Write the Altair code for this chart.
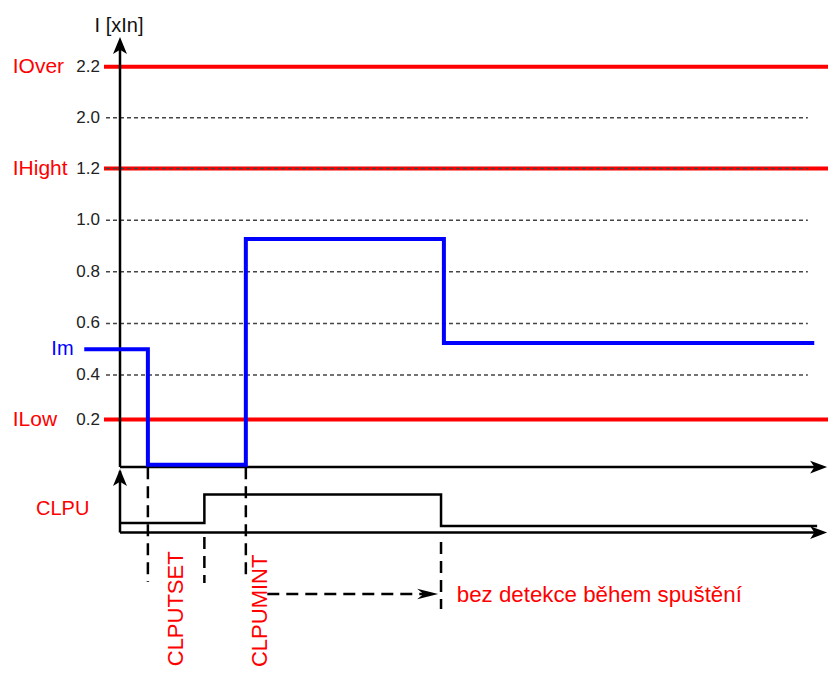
import altair as alt
import pandas as pd

# ---------------- data (x = time, % of drawing width; 0 = vertical axis) ----------------
# measured current Im [xIn] (step signal)
im_t = [-5.0, 3.9, 17.6, 45.3, 97.1]
im_val = [0.5, 0.01, 0.927, 0.524, 0.524]

# CLPU logic signal (0 = baseline, 1 = active)
clpu_t = [0.0, 11.8, 44.9, 97.5]
clpu_val = [0.25, 1.0, 0.17, 0.17]

# thresholds
thr_names = ["IOver", "IHight", "ILow"]
thr_vals = [2.2, 1.2, 0.2]

# y-axis ticks and dashed grid
tick_vals = [2.2, 2.0, 1.2, 1.0, 0.8, 0.6, 0.4, 0.2]
tick_labels = ["2.2", "2.0", "1.2", "1.0", "0.8", "0.6", "0.4", "0.2"]
grid_vals = [2.0, 1.2, 1.0, 0.8, 0.6, 0.4]

# event markers (dashed verticals) in the lower lane
event_t = [3.9, 11.8, 17.6, 44.9]
event_top = [1.72, -0.12, 1.72, -0.25]
event_bottom = [-1.30, -1.33, -1.25, -2.01]

# rotated event labels
label_names = ["CLPUTSET", "CLPUMINT"]
label_t = [7.83, 19.65]
label_lane = [-3.52, -3.54]

# ---------------- scales ----------------
XS = alt.Scale(domain=[0, 100], range=[112, 827], nice=False, zero=False)
YI = alt.Scale(domain=[0, 0.2, 0.4, 1.2, 2.0, 2.2],
               range=[459, 411.5, 367, 160.5, 109.7, 58.7], nice=False, zero=False)
YL = alt.Scale(domain=[0, 1], range=[524.5, 486.5], nice=False, zero=False)

FONT = "Liberation Sans"
RED = "#ff0000"
BLUE = "#0000ff"


def X(f="t"):
    return alt.X(f"{f}:Q", scale=XS, axis=None)


def YIe(f="I"):
    return alt.Y(f"{f}:Q", scale=YI, axis=None)


def YLe(f="lane"):
    return alt.Y(f"{f}:Q", scale=YL, axis=None)


layers = []

# red threshold lines
thr_df = pd.DataFrame({"I": thr_vals, "name": thr_names, "t": -2.24, "t2": 99.2})
layers.append(alt.Chart(thr_df).mark_rule(color=RED, strokeWidth=4).encode(
    x=X(), x2="t2:Q", y=YIe()))

# dashed grid
grid_df = pd.DataFrame({"I": grid_vals, "t": -1.96, "t2": 96.2})
layers.append(alt.Chart(grid_df).mark_rule(color="#444444", strokeWidth=1.5, strokeDash=[4, 3]).encode(
    x=X(), x2="t2:Q", y=YIe()))

# threshold labels
layers.append(alt.Chart(thr_df.assign(tl=-15.0)).mark_text(
    align="left", baseline="middle", font=FONT, fontSize=21, color=RED).encode(
    x=X("tl"), y=YIe(), text="name:N"))

# tick labels
tick_df = pd.DataFrame({"I": tick_vals, "lab": tick_labels, "t": -2.8})
layers.append(alt.Chart(tick_df).mark_text(
    align="right", baseline="middle", font=FONT, fontSize=17, color="#222222").encode(
    x=X(), y=YIe(), text="lab:N"))

# axis title
layers.append(alt.Chart(pd.DataFrame({"t": [-0.14], "I": [2.336], "lab": ["I [xIn]"]})).mark_text(
    align="center", baseline="alphabetic", font=FONT, fontSize=20, color="#111111").encode(
    x=X(), y=YIe(), text="lab:N"))

# Im label
layers.append(alt.Chart(pd.DataFrame({"t": [-9.6], "I": [0.5], "lab": ["Im"]})).mark_text(
    align="left", baseline="middle", font=FONT, fontSize=20, color=BLUE).encode(
    x=X(), y=YIe(), text="lab:N"))

# axes of the upper panel
layers.append(alt.Chart(pd.DataFrame({"t": [0.0], "t2": [98.0], "I": [0.0]})).mark_rule(
    color="black", strokeWidth=2.5).encode(x=X(), x2="t2:Q", y=YIe()))
layers.append(alt.Chart(pd.DataFrame({"t": [0.0], "I": [0.0], "I2": [2.29]})).mark_rule(
    color="black", strokeWidth=2.5).encode(x=X(), y=YIe(), y2="I2:Q"))

# current signal
im_df = pd.DataFrame({"t": im_t, "I": im_val})
layers.append(alt.Chart(im_df).mark_line(
    interpolate="step-after", color=BLUE, strokeWidth=4).encode(x=X(), y=YIe()))

# arrow heads (upper panel)
UP = "M0,0 L0.82,2 L0,1.5 L-0.82,2 Z"
RIGHT = "M0,0 L-2,0.75 L-1.5,0 L-2,-0.75 Z"
layers.append(alt.Chart(pd.DataFrame({"t": [0.0], "I": [2.316]})).mark_point(
    shape=UP, size=289, filled=True, color="black", opacity=1).encode(x=X(), y=YIe()))
layers.append(alt.Chart(pd.DataFrame({"t": [98.9], "I": [0.0]})).mark_point(
    shape=RIGHT, size=289, filled=True, color="black", opacity=1).encode(x=X(), y=YIe()))

# ---------------- lower lane ----------------
# dashed event markers
ev_df = pd.DataFrame({"t": event_t, "lane": event_top, "lane2": event_bottom})
layers.append(alt.Chart(ev_df).mark_rule(color="black", strokeWidth=2.5, strokeDash=[12, 7]).encode(
    x=X(), y=YLe(), y2="lane2:Q"))

# lower axes
layers.append(alt.Chart(pd.DataFrame({"t": [0.0], "t2": [98.0], "lane": [0.0]})).mark_rule(
    color="black", strokeWidth=2.5).encode(x=X(), x2="t2:Q", y=YLe()))
layers.append(alt.Chart(pd.DataFrame({"t": [0.0], "lane": [0.0], "lane2": [1.62]})).mark_rule(
    color="black", strokeWidth=2.5).encode(x=X(), y=YLe(), y2="lane2:Q"))

# CLPU signal
clpu_df = pd.DataFrame({"t": clpu_t, "lane": clpu_val})
layers.append(alt.Chart(clpu_df).mark_line(
    interpolate="step-after", color="black", strokeWidth=2.5).encode(x=X(), y=YLe()))

layers.append(alt.Chart(pd.DataFrame({"t": [0.0], "lane": [1.67]})).mark_point(
    shape=UP, size=289, filled=True, color="black", opacity=1).encode(x=X(), y=YLe()))
layers.append(alt.Chart(pd.DataFrame({"t": [98.9], "lane": [0.0]})).mark_point(
    shape=RIGHT, size=289, filled=True, color="black", opacity=1).encode(x=X(), y=YLe()))

# duration arrow
layers.append(alt.Chart(pd.DataFrame({"t": [20.6], "t2": [42.5], "lane": [-1.62]})).mark_rule(
    color="black", strokeWidth=2.5, strokeDash=[12, 7]).encode(x=X(), x2="t2:Q", y=YLe()))
layers.append(alt.Chart(pd.DataFrame({"t": [44.5], "lane": [-1.62]})).mark_point(
    shape="M0,0 L-2,0.5 L-1.4,0 L-2,-0.5 Z", size=441, filled=True, color="black", opacity=1).encode(
    x=X(), y=YLe()))

# lane texts
layers.append(alt.Chart(pd.DataFrame({"t": [-11.75], "lane": [0.46], "lab": ["CLPU"]})).mark_text(
    align="left", baseline="alphabetic", font=FONT, fontSize=20, color=RED).encode(
    x=X(), y=YLe(), text="lab:N"))
layers.append(alt.Chart(pd.DataFrame({"t": [47.1], "lane": [-1.83],
                                      "lab": ["bez detekce během spuštění"]})).mark_text(
    align="left", baseline="alphabetic", font=FONT, fontSize=22.3, color=RED).encode(
    x=X(), y=YLe(), text="lab:N"))
lab_df = pd.DataFrame({"t": label_t, "lane": label_lane, "lab": label_names})
layers.append(alt.Chart(lab_df).mark_text(
    align="left", baseline="middle", angle=270, font=FONT, fontSize=22, color=RED).encode(
    x=X(), y=YLe(), text="lab:N"))

chart = alt.layer(*layers).resolve_scale(y="independent").properties(
    width=820, height=659, autosize=alt.AutoSizeParams(type="none"), padding=0,
    background="white",
).configure_view(stroke=None)

chart.save("out.html", embed_options={"renderer": "svg", "actions": False})
